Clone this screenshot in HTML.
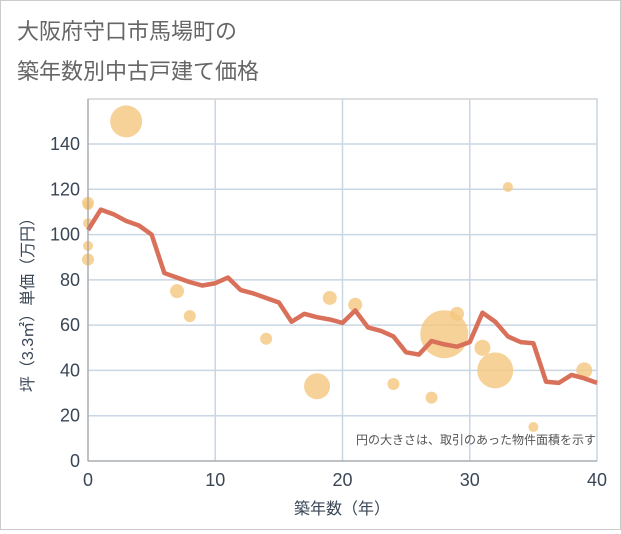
<!DOCTYPE html>
<html><head><meta charset="utf-8"><style>
body{margin:0;background:#fff;font-family:"Liberation Sans","Noto Sans CJK JP",sans-serif}
#wrap{position:relative;width:619px;height:528px;border:1px solid #ccc;background:#fff}
</style></head><body>
<div id="wrap">
<svg id="c" width="619" height="528">
<text x="16" y="38" font-size="22" fill="#666">大阪府守口市馬場町の</text>
<text x="16" y="78" font-size="22" fill="#666">築年数別中古戸建て価格</text>
<g id="grid"></g><g id="bubbles"></g><g id="line"></g><g id="axes"></g>
<text x="595" y="443" font-size="12" fill="#555" text-anchor="end">円の大きさは、取引のあった物件面積を示す</text>
<text x="341" y="513" font-size="16" fill="#3a4656" text-anchor="middle">築年数（年）</text>
<text transform="translate(32,300) rotate(-90)" font-size="16" fill="#3a4656" text-anchor="middle">坪（3.3㎡）単価（万円）</text>
</svg></div>
<script>
const lineYears=[0,1,2,3,4,5,6,7,8,9,10,11,12,13,14,15,16,17,18,19,20,21,22,23,24,25,26,27,28,29,30,31,32,33,34,35,36,37,38,39,40];
const linePrices=[102,111,109,106,104,100,83,81,79,77.5,78.5,81,75.5,74,72,70,61.5,65,63.5,62.5,61,66.5,59,57.5,55,48,47,53,51.5,50.5,52.5,65.5,61.5,55,52.5,52,35,34.5,38,36.5,34.5];
const bubbleYears=[0,0,0,0,0,3,7,8,14,18,19,21,24,27,28,29,31,32,33,35,39];
const bubblePrices=[114,113,105,95,89,150,75,64,54,33,72,69,34,28,56,65,50,40,121,15,40];
const bubbleSizes=[6,5,5,5,6,16,7,6,6,13,7,7,6,6,24,7,8,18,5,5,8];
const xTicks=[0,10,20,30,40];
const yTicks=[0,20,40,60,80,100,120,140];
const NS="http://www.w3.org/2000/svg";
const X=v=>87+v*(596-87)/40, Y=v=>460-v*(460-143)/140;
function mk(t,a,p){const e=document.createElementNS(NS,t);for(const k in a)e.setAttribute(k,a[k]);p.appendChild(e);return e;}
const g=document.getElementById('grid'),ax=document.getElementById('axes');
mk('rect',{x:87,y:98,width:509,height:362,fill:'none',stroke:'#bbb'},g);
for(const t of yTicks){
 const l=mk('line',{x1:87,x2:596,y1:Y(t),y2:Y(t),stroke:'#c9d6e3','stroke-width':1.5},g);
 
 
 const tx=mk('text',{x:79,y:Y(t)+6,'font-size':18,fill:'#3a4656','text-anchor':'end'},ax);tx.textContent=t;
 
 
}
for(const t of xTicks){
 const l=mk('line',{x1:X(t),x2:X(t),y1:98,y2:460,stroke:'#c9d6e3','stroke-width':1.5},g);
 
 
 const tx=mk('text',{x:X(t),y:485,'font-size':18,fill:'#3a4656','text-anchor':'middle'},ax);tx.textContent=t;
 
 
}
mk('line',{x1:87,x2:87,y1:98,y2:460,stroke:'#999'},ax);
mk('line',{x1:87,x2:596,y1:460,y2:460,stroke:'#999'},ax);
const b=document.getElementById('bubbles');
bubbleYears.forEach((yr,i)=>{
 const c=mk('circle',{cx:X(yr),cy:Y(bubblePrices[i]),r:bubbleSizes[i],fill:'#f5c77e','fill-opacity':0.8},b);
 
 
});
const p=mk('polyline',{points:lineYears.map((yr,i)=>X(yr)+','+Y(linePrices[i])).join(' '),fill:'none',stroke:'#d9705a','stroke-width':4.5,'stroke-linejoin':'round'},document.getElementById('line'));


</script>
</body></html>
